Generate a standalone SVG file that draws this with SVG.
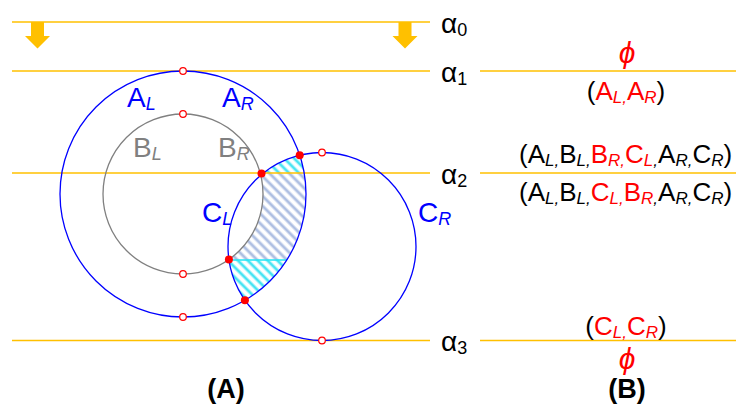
<svg xmlns="http://www.w3.org/2000/svg" width="736" height="406" viewBox="0 0 736 406">
<style>
.lv{stroke:#FFC000;stroke-width:1.5;fill:none}
.cb{stroke:#0000FF;stroke-width:1.3;fill:none}
.cg{stroke:#808080;stroke-width:1.3;fill:none}
.om{fill:#fff;stroke:#FF0000;stroke-width:1.2}
.fm{fill:#FF0000}
text{font-family:"Liberation Sans",Arial,sans-serif}
.lb{font-size:28px}
.sb{font-size:18px;font-style:italic}
.al{font-size:28px;fill:#000}
.as{font-size:18px;fill:#000}
.tx{font-size:26px;fill:#000}
.ts{font-size:17px;font-style:italic}
.r{fill:#FF0000}
.k{fill:#000}
.ph{font-size:30px;font-style:italic;fill:#FF0000}
.bd{font-size:27px;font-weight:bold;fill:#000}
</style>
<defs>
<pattern id="hb" width="7" height="7" patternUnits="userSpaceOnUse" patternTransform="rotate(45)">
<rect width="7" height="7" fill="#fff"/>
<rect y="0" width="7" height="1" fill="#dbe2f2"/>
<rect y="1" width="7" height="2" fill="#aebfe2"/>
<rect y="3" width="7" height="1" fill="#dbe2f2"/>
</pattern>
<pattern id="hc" width="7" height="7" patternUnits="userSpaceOnUse" patternTransform="rotate(45)">
<rect width="7" height="7" fill="#fff"/>
<rect y="0" width="7" height="1" fill="#b5f4fa"/>
<rect y="1" width="7" height="2" fill="#48e4f2"/>
<rect y="3" width="7" height="1" fill="#b5f4fa"/>
</pattern>
<path id="reg" d="M299.71,155.18 A123,123 0 0 1 244.91,300.28 A94,94 0 0 1 228.92,259.5 A80,80 0 0 0 260.76,175.2 A94,94 0 0 1 299.71,155.18 Z"/>
<clipPath id="cTop"><rect x="0" y="0" width="736" height="173"/></clipPath>
<clipPath id="cMid"><rect x="0" y="173" width="736" height="87"/></clipPath>
<clipPath id="cBot"><rect x="0" y="260" width="736" height="146"/></clipPath>
<polygon id="arr" points="-6.5,0 6.5,0 6.5,14 12.5,14 0,26.5 -12.5,14 -6.5,14" fill="#FFC000"/>
</defs>

<g id="hatch">
<use href="#reg" fill="url(#hc)" clip-path="url(#cTop)"/>
<use href="#reg" fill="url(#hb)" clip-path="url(#cMid)"/>
<use href="#reg" fill="url(#hc)" clip-path="url(#cBot)"/>
<line x1="229" y1="260" x2="287" y2="260" stroke="#22E6F5" stroke-width="1.5"/>
</g>

<g id="levels">
<line class="lv" x1="12" y1="22" x2="430" y2="22"/>
<line class="lv" x1="12" y1="71" x2="430" y2="71"/>
<line class="lv" x1="480" y1="71" x2="736" y2="71"/>
<line class="lv" x1="12" y1="173" x2="430" y2="173"/>
<line class="lv" x1="480" y1="173" x2="736" y2="173"/>
<line class="lv" x1="12" y1="340.5" x2="430" y2="340.5"/>
<line class="lv" x1="480" y1="340.5" x2="736" y2="340.5"/>
<use href="#arr" x="37.5" y="22"/>
<use href="#arr" x="405" y="22"/>
</g>

<g id="circleA"><circle class="cb" cx="183" cy="194" r="123"/></g>
<g id="circleB"><circle class="cg" cx="183" cy="194" r="80"/></g>
<g id="circleC"><circle class="cb" cx="322" cy="246.5" r="94"/></g>

<g id="markers">
<circle class="om" cx="183" cy="71" r="3.3"/>
<circle class="om" cx="183" cy="114" r="3.3"/>
<circle class="om" cx="183" cy="274" r="3.3"/>
<circle class="om" cx="183" cy="317" r="3.3"/>
<circle class="om" cx="322" cy="152.5" r="3.3"/>
<circle class="om" cx="322" cy="340.5" r="3.3"/>
<circle class="fm" cx="299.7" cy="155.2" r="4"/>
<circle class="fm" cx="261.5" cy="173.5" r="4"/>
<circle class="fm" cx="228.9" cy="259.5" r="4"/>
<circle class="fm" cx="244.9" cy="300.3" r="4"/>
</g>

<g id="circleLabels">
<text class="lb" x="127" y="107" fill="#0000FF">A<tspan class="sb" dy="3">L</tspan></text>
<text class="lb" x="222" y="107" fill="#0000FF">A<tspan class="sb" dy="3">R</tspan></text>
<text class="lb" x="133" y="157" fill="#808080">B<tspan class="sb" dy="3">L</tspan></text>
<text class="lb" x="218" y="157" fill="#808080">B<tspan class="sb" dy="3">R</tspan></text>
<text class="lb" x="202" y="222" fill="#0000FF">C<tspan class="sb" dy="3">L</tspan></text>
<text class="lb" x="418" y="222" fill="#0000FF">C<tspan class="sb" dy="3">R</tspan></text>
</g>

<g id="alphaLabels">
<text class="al" x="441" y="33">α<tspan class="as" dy="3">0</tspan></text>
<text class="al" x="441" y="82">α<tspan class="as" dy="3">1</tspan></text>
<text class="al" x="441" y="184">α<tspan class="as" dy="3">2</tspan></text>
<text class="al" x="441" y="351">α<tspan class="as" dy="3">3</tspan></text>
</g>

<g id="orders">
<text class="ph" x="627" y="63" text-anchor="middle">ϕ</text>
<text class="tx" x="626" y="100" text-anchor="middle">(<tspan class="r">A</tspan><tspan class="ts r" dy="3">L,</tspan><tspan class="r" dy="-3">A</tspan><tspan class="ts r" dy="3">R</tspan><tspan dy="-3">)</tspan></text>
<text class="tx" x="519" y="163">(A<tspan class="ts" dy="3">L,</tspan><tspan dy="-3">B</tspan><tspan class="ts" dy="3">L,</tspan><tspan class="r" dy="-3">B</tspan><tspan class="ts r" dy="3">R,</tspan><tspan class="r" dy="-3">C</tspan><tspan class="ts r" dy="3">L</tspan><tspan class="ts" dy="0">,</tspan><tspan dy="-3">A</tspan><tspan class="ts" dy="3">R,</tspan><tspan dy="-3">C</tspan><tspan class="ts" dy="3">R</tspan><tspan dy="-3">)</tspan></text>
<text class="tx" x="519" y="201">(A<tspan class="ts" dy="3">L,</tspan><tspan dy="-3">B</tspan><tspan class="ts" dy="3">L,</tspan><tspan class="r" dy="-3">C</tspan><tspan class="ts r" dy="3">L,</tspan><tspan class="r" dy="-3">B</tspan><tspan class="ts r" dy="3">R</tspan><tspan class="ts" dy="0">,</tspan><tspan dy="-3">A</tspan><tspan class="ts" dy="3">R,</tspan><tspan dy="-3">C</tspan><tspan class="ts" dy="3">R</tspan><tspan dy="-3">)</tspan></text>
<text class="tx" x="626" y="335" text-anchor="middle">(<tspan class="r">C</tspan><tspan class="ts r" dy="3">L,</tspan><tspan class="r" dy="-3">C</tspan><tspan class="ts r" dy="3">R</tspan><tspan dy="-3">)</tspan></text>
<text class="ph" x="627" y="369" text-anchor="middle">ϕ</text>
</g>

<g id="captions">
<text class="bd" x="226" y="398" text-anchor="middle">(A)</text>
<text class="bd" x="627" y="398" text-anchor="middle">(B)</text>
</g>
</svg>
